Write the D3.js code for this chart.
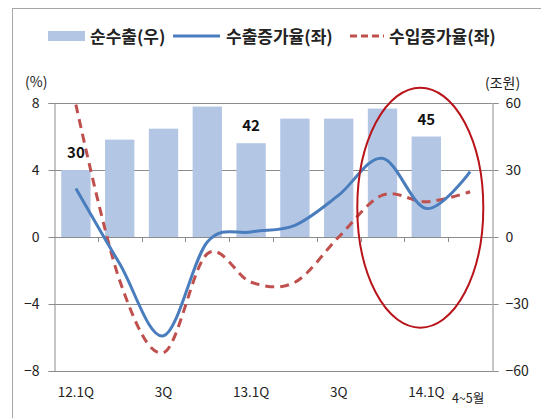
<!DOCTYPE html>
<html>
<head>
<meta charset="utf-8">
<script src="https://cdn.jsdelivr.net/npm/d3@7"></script>
<style>
  html, body { margin: 0; padding: 0; background: #fff; }
  svg { display: block; font-family: "Noto Sans CJK KR", "Noto Sans", sans-serif; }
</style>
</head>
<body>
<div id="chart"></div>
<script>
// ── Data ───────────────────────────────────────────────────────────────────
const categories = ["12.1Q", "12.2Q", "12.3Q", "12.4Q", "13.1Q", "13.2Q", "13.3Q", "13.4Q", "14.1Q", "14.4~5"];
const tickLabels = ["12.1Q", "", "3Q", "", "13.1Q", "", "3Q", "", "14.1Q", "4~5월"];
const netExports = [30, 43.6, 48.5, 58.4, 42, 53, 53, 57.5, 45, null];   // 조원, right axis
const exportGrowth = [2.9, -1.6, -5.9, -0.3, 0.3, 0.7, 2.5, 4.7, 1.7, 3.9]; // %, left axis
const importGrowth = [7.9, -2.6, -6.9, -1.0, -2.7, -2.7, 0.0, 2.5, 2.1, 2.7]; // %, left axis
const labeledBars = ["12.1Q", "13.1Q", "14.1Q"];
const leftTicks = [-8, -4, 0, 4, 8];
const rightTicks = [-60, -30, 0, 30, 60];
const legendItems = ["순수출(우)", "수출증가율(좌)", "수입증가율(좌)"];

// ── Layout ─────────────────────────────────────────────────────────────────
const W = 541, H = 418;
const PLOT = { left: 54, right: 492, top: 103, bottom: 371 };
const BAR = "#b3c7e5", BLUE = "#4a7dbd", RED = "#c0504d", GRID = "#8c8c8c";

const svg = d3.select("#chart").append("svg").attr("width", W).attr("height", H);

// outer frame
svg.append("rect").attr("x", 12.5).attr("y", 8.5).attr("width", 540).attr("height", 420)
  .attr("fill", "none").attr("stroke", "#a6a6a6");

const x = d3.scaleBand().domain(categories).range([PLOT.left, PLOT.right])
  .paddingInner(0.33).paddingOuter(0.165);
const y = d3.scaleLinear().domain([-8, 8]).range([PLOT.bottom, PLOT.top]);
const yR = d3.scaleLinear().domain([-60, 60]).range([PLOT.bottom, PLOT.top]);
const cx = c => x(c) + x.bandwidth() / 2;

// ── Gridlines ──────────────────────────────────────────────────────────────
svg.append("g").selectAll("line").data(leftTicks).join("line")
  .attr("x1", PLOT.left).attr("x2", PLOT.right)
  .attr("y1", d => Math.round(y(d)) + 0.5).attr("y2", d => Math.round(y(d)) + 0.5)
  .attr("stroke", GRID).attr("stroke-width", 1);

// ── Bars ───────────────────────────────────────────────────────────────────
const barData = categories.map((c, i) => ({ c, v: netExports[i] })).filter(d => d.v != null);
svg.append("g").selectAll("rect").data(barData).join("rect")
  .attr("x", d => x(d.c))
  .attr("y", d => yR(d.v))
  .attr("width", x.bandwidth())
  .attr("height", d => yR(0) - yR(d.v))
  .attr("fill", BAR);

// zero line over bars + category ticks
svg.append("line")
  .attr("x1", PLOT.left).attr("x2", PLOT.right)
  .attr("y1", Math.round(y(0)) + 0.5).attr("y2", Math.round(y(0)) + 0.5)
  .attr("stroke", GRID);
svg.append("g").selectAll("line").data(categories.slice(1)).join("line")
  .attr("x1", d => Math.round(x(d) - x.step() * x.paddingInner() / 2) + 0.5)
  .attr("x2", d => Math.round(x(d) - x.step() * x.paddingInner() / 2) + 0.5)
  .attr("y1", y(0)).attr("y2", y(0) + 5)
  .attr("stroke", GRID);

// ── Axes ───────────────────────────────────────────────────────────────────
const axisL = svg.append("g").attr("transform", `translate(${PLOT.left + 0.5},0)`)
  .call(d3.axisLeft(y).tickValues(leftTicks).tickSize(6).tickPadding(9).tickFormat(d3.format("d")));
const axisR = svg.append("g").attr("transform", `translate(${PLOT.right + 0.5},0)`)
  .call(d3.axisRight(yR).tickValues(rightTicks).tickSize(6).tickPadding(7).tickFormat(d3.format("d")));
[axisL, axisR].forEach(g => {
  g.select(".domain").attr("stroke", GRID);
  g.selectAll(".tick line").attr("stroke", GRID);
  g.selectAll(".tick text").attr("font-size", 14).attr("fill", "#222")
    .attr("font-family", "'Noto Sans CJK KR', sans-serif");
});
axisR.selectAll(".tick text").attr("x", 13);

svg.append("text").attr("x", 25).attr("y", 87).attr("font-size", 14).attr("fill", "#222").text("(%)");
svg.append("text").attr("x", 485).attr("y", 88).attr("font-size", 14).attr("fill", "#222").text("(조원)");

// category labels along the bottom
svg.append("g").selectAll("text").data(categories).join("text")
  .attr("x", (d, i) => i === categories.length - 1 ? cx(d) - 2 : cx(d))
  .attr("y", (d, i) => i === categories.length - 1 ? 403 : 397)
  .attr("text-anchor", "middle")
  .attr("font-size", (d, i) => i === categories.length - 1 ? 12.5 : 13.5)
  .attr("fill", "#222")
  .text((d, i) => tickLabels[i]);

// ── Lines ──────────────────────────────────────────────────────────────────
const line = d3.line().x((d, i) => cx(categories[i])).y(d => y(d)).curve(d3.curveCardinal.tension(0));

svg.append("path").datum(importGrowth)
  .attr("fill", "none").attr("stroke", RED).attr("stroke-width", 3)
  .attr("stroke-dasharray", "9,6").attr("d", line);
svg.append("path").datum(exportGrowth)
  .attr("fill", "none").attr("stroke", BLUE).attr("stroke-width", 3).attr("d", line);

// bar value labels
svg.append("g").selectAll("text").data(barData.filter(d => labeledBars.includes(d.c))).join("text")
  .attr("x", d => cx(d.c))
  .attr("y", d => yR(d.v) - 12)
  .attr("text-anchor", "middle")
  .attr("font-size", 15).attr("font-weight", "bold").attr("fill", "#111")
  .text(d => d3.format("d")(d.v));

// ── Annotation ellipse ─────────────────────────────────────────────────────
svg.append("ellipse")
  .attr("cx", cx("14.1Q") - 6).attr("cy", y(1.75))
  .attr("rx", 63).attr("ry", 120)
  .attr("fill", "none").attr("stroke", "#b8141a").attr("stroke-width", 2);

// ── Legend ─────────────────────────────────────────────────────────────────
const lg = svg.append("g").attr("font-size", 17).attr("font-weight", "bold").attr("fill", "#222");
lg.append("rect").attr("x", 48).attr("y", 31).attr("width", 37).attr("height", 10).attr("fill", BAR);
lg.append("text").attr("x", 90).attr("y", 43).text(legendItems[0]);
lg.append("line").attr("x1", 173).attr("x2", 220).attr("y1", 36).attr("y2", 36)
  .attr("stroke", BLUE).attr("stroke-width", 3);
lg.append("text").attr("x", 226).attr("y", 43).text(legendItems[1]);
lg.append("line").attr("x1", 350).attr("x2", 384).attr("y1", 36).attr("y2", 36)
  .attr("stroke", RED).attr("stroke-width", 3).attr("stroke-dasharray", "7,4");
lg.append("text").attr("x", 389).attr("y", 43).text(legendItems[2]);
</script>
</body>
</html>
